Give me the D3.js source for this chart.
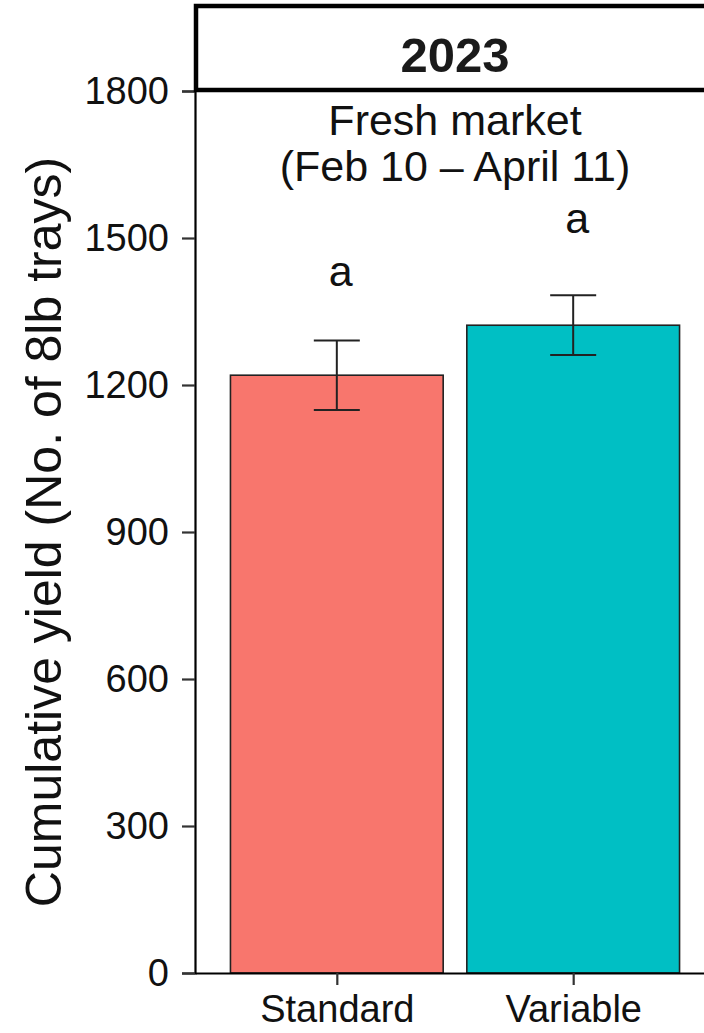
<!DOCTYPE html>
<html>
<head>
<meta charset="utf-8">
<script src="https://cdn.jsdelivr.net/npm/d3@7"></script>
<style>
  body { margin: 0; background: #fff; }
  text { font-family: "Liberation Sans", Arial, sans-serif; }
</style>
</head>
<body>
<svg width="704" height="1033"></svg>
<script>
// cumulative yield, 2023 panel

var categories = ["Standard", "Variable"];
var yieldMean = [1220, 1322];
var yieldSE = [71, 61];
var letters = ["a", "a"];
var letterPos = [1403, 1510];
var barColors = ["#F8766D", "#00BFC4"];
var yTicks = [0, 300, 600, 900, 1200, 1500, 1800];
var stripLabel = "2023";
var panelNote = ["Fresh market", "(Feb 10 \u2013 April 11)"];
var yTitle = "Cumulative yield (No. of 8lb trays)";

var svg = d3.select("svg");

// panel box (window.top is read-only, so no "top" here)
var pLeft = 195, pRight = 715, pTop = 91, pBottom = 973;

var x = d3.scalePoint()
  .domain(categories)
  .range([pLeft, pRight])
  .padding(0.6);

var step = x.step();
var barW = step * 0.9;

var y = d3.scaleLinear()
  .domain([0, 1800])
  .range([pBottom, pTop]);

var data = categories.map(function (c, i) {
  return { name: c, value: yieldMean[i], se: yieldSE[i], letter: letters[i], lpos: letterPos[i], color: barColors[i] };
});

// bars
svg.selectAll(".bar")
  .data(data)
  .enter().append("rect")
  .attr("class", "bar")
  .attr("x", function (d) { return x(d.name) - barW / 2; })
  .attr("y", function (d) { return y(d.value); })
  .attr("width", barW)
  .attr("height", function (d) { return pBottom - y(d.value); })
  .attr("fill", function (d) { return d.color; })
  .attr("stroke", "#222")
  .attr("stroke-width", 1.6);

// error bars
var eb = svg.selectAll(".err")
  .data(data)
  .enter().append("g")
  .attr("class", "err")
  .attr("stroke", "#222")
  .attr("stroke-width", 2);

eb.append("line")
  .attr("x1", function (d) { return x(d.name); })
  .attr("x2", function (d) { return x(d.name); })
  .attr("y1", function (d) { return y(d.value - d.se); })
  .attr("y2", function (d) { return y(d.value + d.se); });

[-1, 1].forEach(function (s) {
  eb.append("line")
    .attr("x1", function (d) { return x(d.name) - 23; })
    .attr("x2", function (d) { return x(d.name) + 23; })
    .attr("y1", function (d) { return y(d.value + s * d.se); })
    .attr("y2", function (d) { return y(d.value + s * d.se); });
});

// significance letters
svg.selectAll(".letter")
  .data(data)
  .enter().append("text")
  .attr("class", "letter")
  .attr("x", function (d) { return x(d.name) + 4; })
  .attr("y", function (d) { return y(d.lpos); })
  .attr("text-anchor", "middle")
  .attr("font-size", 43)
  .attr("fill", "#111")
  .text(function (d) { return d.letter; });

// note inside the panel
svg.append("text")
  .attr("x", (pLeft + pRight) / 2)
  .attr("y", 135)
  .attr("text-anchor", "middle")
  .attr("font-size", 43)
  .attr("fill", "#111")
  .selectAll("tspan")
  .data(panelNote)
  .enter().append("tspan")
  .attr("x", (pLeft + pRight) / 2)
  .attr("dy", function (d, i) { return i === 0 ? 0 : 46; })
  .text(function (d) { return d; });

// y axis
var yAxis = svg.append("g")
  .attr("transform", "translate(" + pLeft + ",0)")
  .call(d3.axisLeft(y).tickValues(yTicks).tickSize(13).tickPadding(13).tickFormat(d3.format("d")));
yAxis.select(".domain").attr("stroke", "#000").attr("stroke-width", 2.2);
yAxis.selectAll(".tick line").attr("stroke", "#333").attr("stroke-width", 2.2);
yAxis.selectAll(".tick text").attr("font-size", 38).attr("fill", "#111")
  .attr("font-family", "Liberation Sans, Arial, sans-serif");

// x axis
var xAxis = svg.append("g")
  .attr("transform", "translate(0," + pBottom + ")")
  .call(d3.axisBottom(x).tickSize(12).tickPadding(10).tickSizeOuter(0));
xAxis.select(".domain").attr("stroke", "#000").attr("stroke-width", 2.2);
xAxis.selectAll(".tick line").attr("stroke", "#333").attr("stroke-width", 2.2);
xAxis.selectAll(".tick text").attr("font-size", 38).attr("fill", "#111")
  .attr("font-family", "Liberation Sans, Arial, sans-serif");

// y title
svg.append("text")
  .attr("transform", "translate(61," + (pTop + pBottom) / 2 + ") rotate(-90)")
  .attr("text-anchor", "middle")
  .attr("font-size", 50)
  .attr("fill", "#111")
  .text(yTitle);

// facet strip
svg.append("rect")
  .attr("x", pLeft + 1)
  .attr("y", 6)
  .attr("width", pRight - pLeft + 20)
  .attr("height", pTop - 7)
  .attr("fill", "#fff")
  .attr("stroke", "#000")
  .attr("stroke-width", 4.5);

svg.append("text")
  .attr("x", (pLeft + pRight) / 2)
  .attr("y", 72)
  .attr("text-anchor", "middle")
  .attr("font-size", 49)
  .attr("font-weight", "bold")
  .attr("fill", "#1a1a1a")
  .text(stripLabel);
</script>
</body>
</html>
